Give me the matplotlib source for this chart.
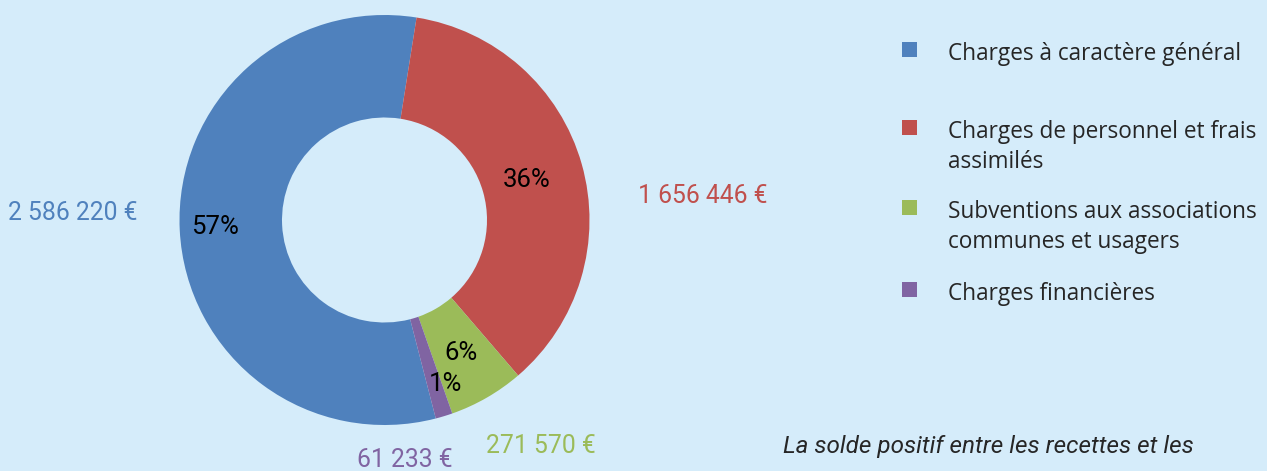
# Package Import
import matplotlib
import matplotlib.pyplot as plt
from matplotlib.patches import Rectangle

matplotlib.use('Agg')

# Data
categories = [
    'Charges à caractère général',
    'Charges de personnel et frais\nassimilés',
    'Subventions aux associations\ncommunes et usagers',
    'Charges financières',
]
values = [2586220, 1656446, 271570, 61233]
value_labels = ['2 586 220 €', '1 656 446 €', '271 570 €', '61 233 €']
colors = ['#4F81BD', '#C0504D', '#9BBB59', '#8064A2']
footer_text = 'La solde positif entre les recettes et les'

bg = '#D5ECFA'
W, H = 1267, 471

# Create the figure
fig = plt.figure(figsize=(W / 100, H / 100), dpi=100, facecolor=bg)

# pie axes : center (384, 220) px, radius 205 px
cx, cy, r = 384.5, 220, 205
ax = fig.add_axes([(cx - r) / W, (H - cy - r) / H, 2 * r / W, 2 * r / H])
ax.set_facecolor(bg)

total = sum(values)
blue_share = values[0] / total * 360
start = 90 - (9 + 360 - blue_share)

wedges, texts, autotexts = ax.pie(
    values,
    colors=colors,
    startangle=start,
    counterclock=False,
    radius=1,
    wedgeprops=dict(width=0.5, edgecolor='none'),
    autopct=lambda p: f'{p:.0f}%',
    pctdistance=0.75,
    textprops=dict(fontsize=18.5, family='Roboto', color='black'),
)
ax.set_xlim(-1, 1)
ax.set_ylim(-1, 1)
ax.set_aspect('equal')
ax.axis('off')

# nudge the percentage labels like the original
nudges = [(-0.08, 0.0), (-0.03, -0.01), (0.0, 0.0), (0.08, -0.08)]
for t, (dx, dy) in zip(autotexts, nudges):
    x, y = t.get_position()
    t.set_position((x + dx, y + dy))

# value labels outside the ring
value_pos = [(73, 213), (703, 196), (541, 446), (405, 460)]
for lab, col, (px, py) in zip(value_labels, colors, value_pos):
    fig.text(px / W, 1 - py / H, lab, color=col, fontsize=17.8,
             family='Roboto', ha='center', va='center')

# legend, drawn by hand
legend_y = [49, 127.5, 207.5, 289]
for lab, col, ly in zip(categories, colors, legend_y):
    fig.patches.append(Rectangle((902 / W, 1 - (ly + 7.5) / H), 15 / W, 15 / H,
                                 transform=fig.transFigure, facecolor=col,
                                 edgecolor='none'))
    fig.text(948 / W, 1 - (ly - 7) / H, lab, color='#262626', fontsize=16.3,
             family='Open Sans', ha='left', va='top', linespacing=1.3)

# footer
fig.text(783 / W, 1 - 447 / H, footer_text, color='#262626', fontsize=17.5,
         family='Roboto', style='italic', ha='left', va='center')

fig.savefig('out.png', dpi=100, facecolor=bg)
